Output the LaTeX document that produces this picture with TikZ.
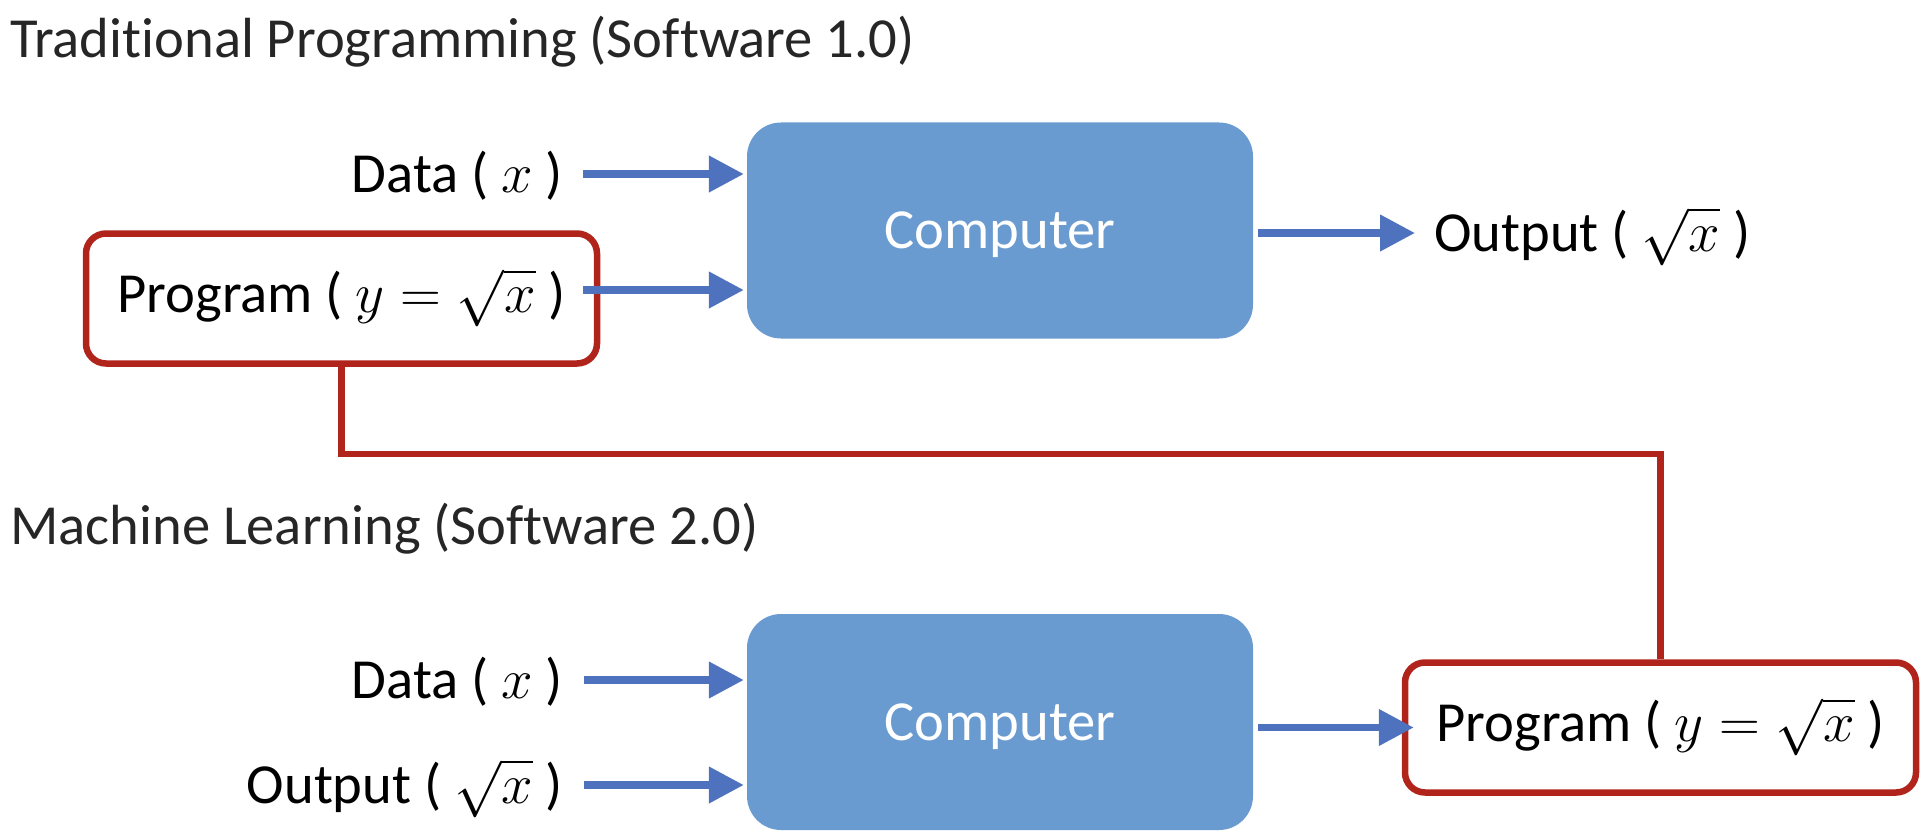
\RequirePackage{fix-cm}
\documentclass[tikz,border=0pt]{standalone}
\usepackage{fontspec}
\setmainfont{Carlito}[Ligatures=NoCommon]
\usetikzlibrary{arrows.meta}
\definecolor{boxblue}{HTML}{6A9BD0}
\definecolor{arrblue}{HTML}{4F72BE}
\definecolor{progred}{HTML}{B0241B}
\definecolor{titlegray}{HTML}{262626}
\begin{document}
\begin{tikzpicture}[x=1pt,y=-1pt,
  every node/.style={font=\fontsize{56.6}{68}\selectfont, inner sep=0pt},
  lbl/.style={text height=46pt, text depth=10pt},
  comp/.style={fill=boxblue, rounded corners=34pt, minimum width=506pt, minimum height=216pt, text=white, text height=46pt, text depth=10pt},
  prog/.style={draw=progred, line width=6.5pt, rounded corners=20pt, minimum width=511pt, minimum height=130pt, text height=40pt, text depth=12pt},
  arr/.style={draw=arrblue, line width=7.5pt, -{Triangle[length=35pt,width=35pt]}},
  link/.style={draw=progred, line width=6.5pt}]
\useasboundingbox (0,0) rectangle (1930,840);
% titles
\node[anchor=base west, text=titlegray] (t1) at (10,58) {Traditional Programming (Software 1.0)};
\node[anchor=base west, text=titlegray] (t2) at (10,544) {Machine Learning (Software 2.0)};
% top row
\node[comp] (comp1) at (1000,230.5) {Computer};
\node[lbl, anchor=east] (data1) at (563,174) {Data ( $x$ )};
\node[prog] (prog1) at (341.5,298.5) {Program ( $y=\sqrt{x}$ )};
\node[lbl, anchor=west] (out1) at (1434,233) {Output ( $\sqrt{x}$ )};
\coordinate (p1a) at (583,290);
\draw[arr] ([xshift=20pt]data1.east) -- ([xshift=-3pt]comp1.west |- data1.east);
\draw[arr] (p1a) -- ([xshift=-3pt]comp1.west |- p1a);
\draw[arr] ([xshift=5pt]comp1.east |- out1.west) -- ([xshift=-19pt]out1.west);
% bottom row
\node[comp] (comp2) at (1000,722) {Computer};
\node[lbl, anchor=east] (data2) at (563,680) {Data ( $x$ )};
\node[lbl, anchor=east] (out2) at (563,785) {Output ( $\sqrt{x}$ )};
\node[prog] (prog2) at (1660.5,727.5) {Program ( $y=\sqrt{x}$ )};
\draw[arr] ([xshift=21pt]data2.east) -- ([xshift=-3pt]comp2.west |- data2.east);
\draw[arr] ([xshift=21pt]out2.east) -- ([xshift=-3pt]comp2.west |- out2.east);
\draw[arr] ([xshift=5pt]comp2.east |- prog2.west) -- ([xshift=12pt]prog2.west);
% red link
\coordinate (bend) at (1000,454);
\draw[link] (prog1.south) -- (prog1.south |- bend) -- (prog2.north |- bend) -- (prog2.north);
\end{tikzpicture}
\end{document}
